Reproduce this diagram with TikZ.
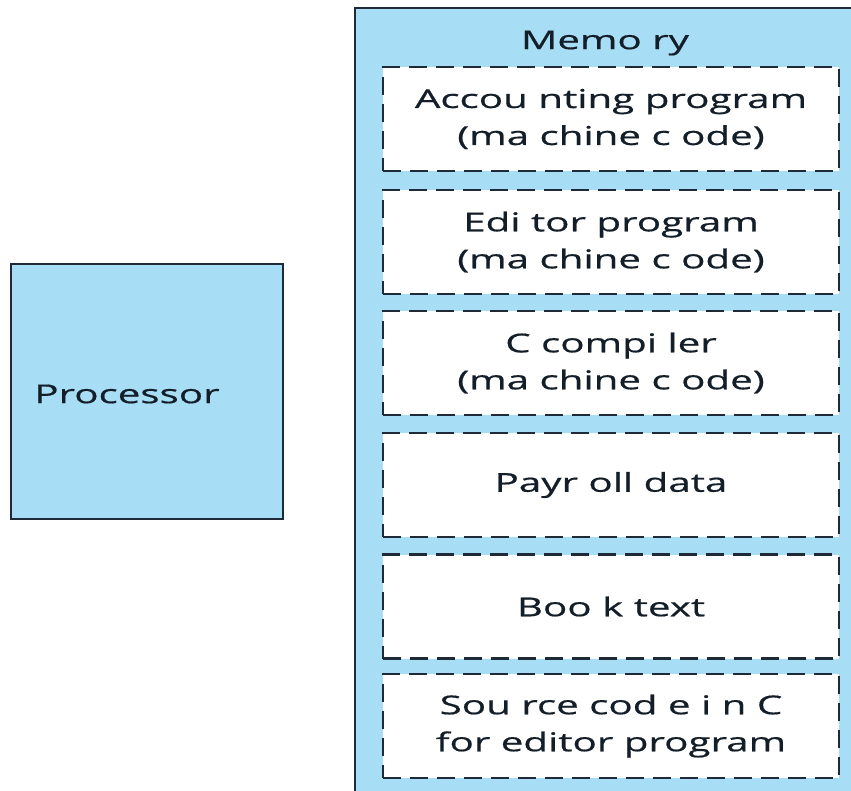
\documentclass[tikz,border=0pt]{standalone}
\usepackage{fontspec}
\setmainfont{Open Sans}[FakeStretch=1.55,FakeBold=0.6]
\definecolor{boxblue}{RGB}{168,221,246}
\definecolor{edge}{RGB}{30,42,56}
\definecolor{ink}{RGB}{20,30,40}
\begin{document}
\begin{tikzpicture}[x=1pt,y=-1pt,
  txt/.style={font=\fontsize{26}{37}\selectfont, text=ink, align=center},
  membox/.style={draw=edge, line width=2.4pt, dash pattern=on 18pt off 9pt, fill=white,
    minimum width=456pt, minimum height=104pt, inner sep=0pt, txt},
  solidbox/.style={draw=edge, line width=2.2pt, fill=boxblue}
  ]
\useasboundingbox (0,0) rectangle (851,791);
\fill[white] (0,0) rectangle (851,791);
\begin{scope}
\clip (0,0) rectangle (851,791);
\node[solidbox, minimum width=520pt, minimum height=820pt, anchor=north west, inner sep=0pt] (memory) at (354,7) {};
\end{scope}
\node[solidbox, minimum width=272pt, minimum height=255pt, anchor=north west, inner sep=0pt] (proc) at (10,263) {};
\node[txt] (proctxt) at (127,394) {Processor};
\node[txt] (memtxt) at (605,43) {Memo ry};
\node[membox] (b1) at (611,119) {Accou nting program\\(ma chine c ode)};
\node[membox] (b2) at (611,242) {Edi tor program\\(ma chine c ode)};
\node[membox] (b3) at (611,363) {C compi ler\\(ma chine c ode)};
\node[membox] (b4) at (611,485) {Payr oll data};
\node[membox] (b5) at (611,606.5) {Boo k text};
\node[membox] (b6) at (611,726) {Sou rce cod e i n C\\for editor program};
\end{tikzpicture}
\end{document}
